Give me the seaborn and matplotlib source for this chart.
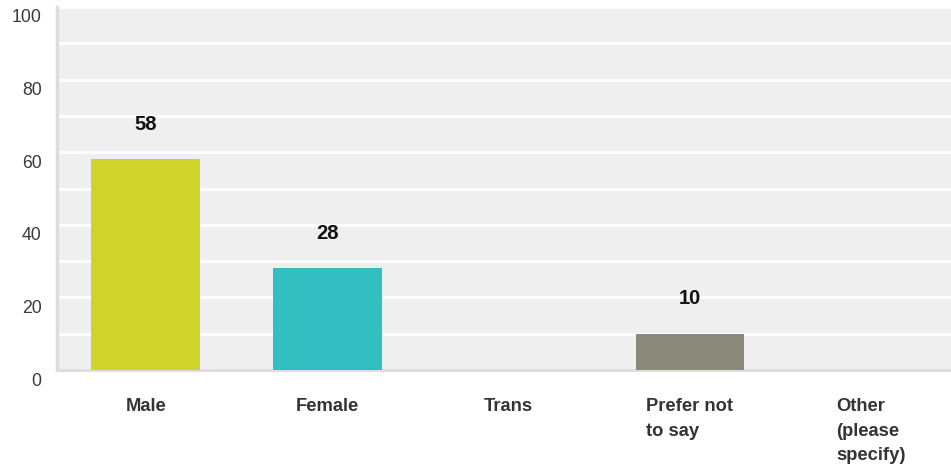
import matplotlib
matplotlib.use("Agg")
import matplotlib.pyplot as plt
import matplotlib.transforms as mtransforms
import seaborn as sns
import pandas as pd

categories = ["Male", "Female", "Trans", "Prefer not\nto say", "Other\n(please\nspecify)"]
values = [58, 28, 0, 10, 0]
colors = ["#d0d32a", "#33bfc1", "#8e8e98", "#8a8a7a", "#c0c0c0"]
y_ticks = [0, 20, 40, 60, 80, 100]

sns.set_theme(style="white")
plt.rcParams["font.family"] = ["Liberation Sans", "DejaVu Sans"]

df = pd.DataFrame({"category": categories, "value": values})

fig = plt.figure(figsize=(9.51, 4.68), dpi=100)
ax = fig.add_axes([57 / 951, 98 / 468, 905 / 951, 363 / 468])
ax.set_facecolor("#efefef")

sns.barplot(data=df, x="category", y="value", hue="category", palette=colors,
            legend=False, width=0.6, ax=ax, saturation=1, zorder=3,
            linewidth=0, edgecolor="none")

ax.set_ylim(0, 100)
ax.set_xlim(-0.49, 4.5)
ax.set_yticks(y_ticks)
ax.set_yticks(range(0, 101, 10), minor=True)
ax.grid(axis="y", which="both", color="white", linewidth=2, zorder=1)
ax.set_axisbelow(True)
ax.set_xlabel("")
ax.set_ylabel("")

for side in ["top", "right"]:
    ax.spines[side].set_visible(False)
ax.spines["left"].set_color("#dcdcdc")
ax.spines["left"].set_linewidth(2.5)
ax.spines["bottom"].set_color("#dcdcdc")
ax.spines["bottom"].set_linewidth(2)

ax.tick_params(axis="y", which="both", length=0, pad=11, labelsize=12.7, labelcolor="#3a3a3a")
ax.tick_params(axis="x", length=0, pad=20.5)
ax.set_xticks(range(len(categories)))
ax.set_xticklabels(categories, fontsize=13.2, fontweight="bold", color="#333333",
                   linespacing=1.56, va="top", ha="center", multialignment="left")

# shift y tick labels slightly below their gridlines
offset = mtransforms.ScaledTranslation(0, -9 / 100, fig.dpi_scale_trans)
for lbl in ax.get_yticklabels():
    lbl.set_transform(lbl.get_transform() + offset)

for i, v in enumerate(values):
    if v > 0:
        ax.text(i, v + 9.6, str(v), ha="center", va="center", fontsize=14.5,
                fontweight="bold", color="#111111", zorder=4)

fig.savefig("out.png", dpi=100)
